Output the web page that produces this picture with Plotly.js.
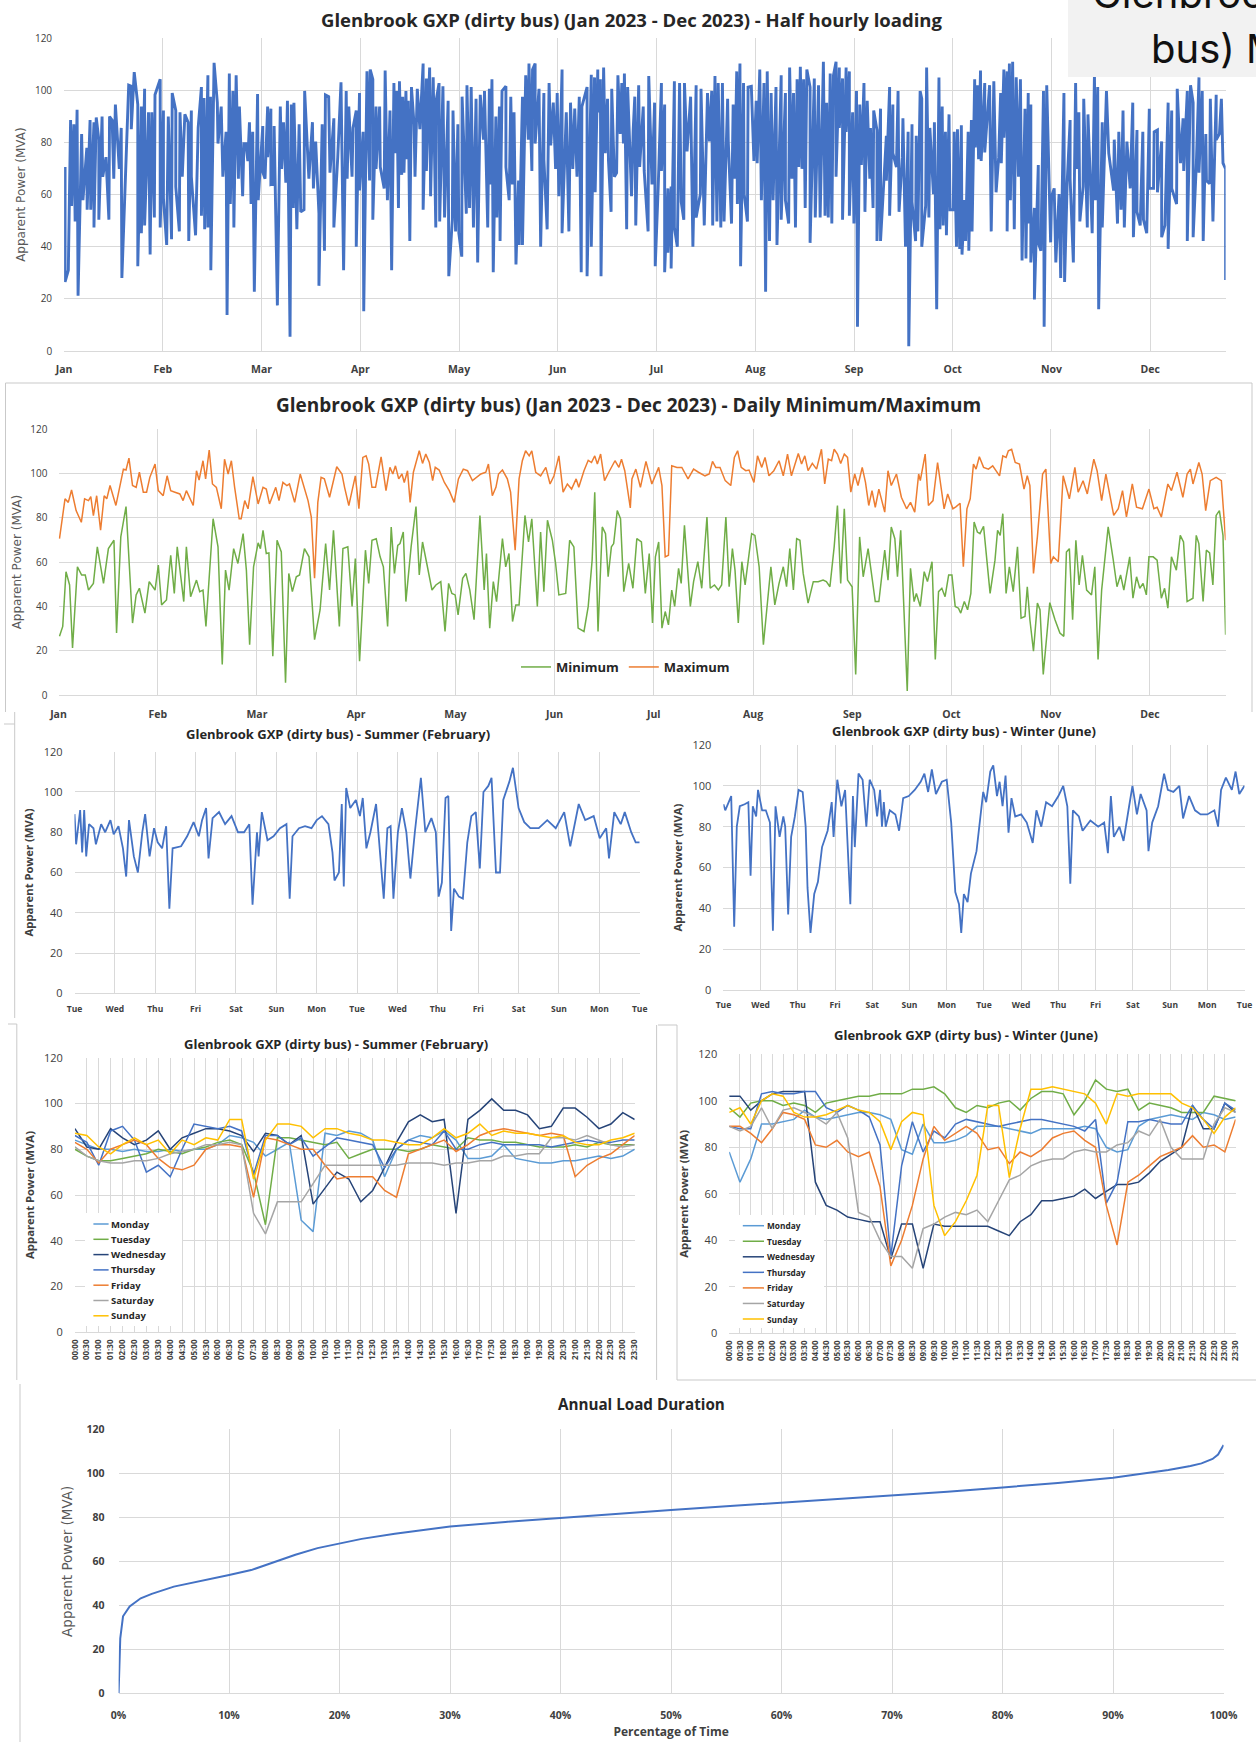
<!DOCTYPE html>
<html><head><meta charset="utf-8">
<script src="https://cdn.plot.ly/plotly-3.0.1.min.js"></script>
<style>html,body{margin:0;padding:0;background:#fff}#chart{width:1256px;height:1742px}</style>
</head><body><div id="chart"></div>
<script>
// ---------------- DATA ----------------
const MONTHS = ['Jan','Feb','Mar','Apr','May','Jun','Jul','Aug','Sep','Oct','Nov','Dec'];
const MONTH_POS = [0,30.42,60.83,91.25,121.67,152.08,182.5,212.92,243.33,273.75,304.17,334.58];

// Daily maximum (day of year index, MVA)
const DAILY_MAX_DAY = [0.3,2,3,4,5.4,7,8,9.2,9.9,10.7,11.7,12.9,14,14.8,15.8,17.6,19.9,20.7,21.6,22.7,23.8,24.8,26,27,28,29.6,30.6,32.1,33.3,34.4,35.7,37.2,38.2,39.2,41.3,42.3,43.1,44.3,45.1,46.2,47.2,48.4,49.9,50.9,52,53,54,55.4,56,57.1,58.1,59.6,61.2,62.7,63.7,64.7,66.6,67.6,68.8,70,70.8,72.4,74.1,76.5,77.5,78.5,79.5,80.5,81.5,83.1,85.3,86.9,
87.7,89,90,91,92.1,93.3,94.3,95.1,96.1,97.2,98.9,100.4,101.6,102.5,103.3,104.3,105.3,106,107,107.8,108.8,110.6,111.6,112.6,113.7,114.7,115.5,116.7,118.3,119.8,121.3,122.6,124.1,125.4,126.9,128.2,129.5,131,131.8,133,134.1,134.9,136.1,137.6,138.6,140,141.2,142.2,143.2,144.3,145.1,146.3,147.8,149.4,150.7,151.9,153.4,154.7,156,157.3,158.7,159.5,161.1,162.4,163.4,164.4,165.2,166.2,167.4,168.7,170.6,171.8,172.6,173.6,175.3,
175.8,177,178.4,180.1,181.9,184,185,186,187,188,189.6,191.1,193,194.7,196.2,198.2,199.5,200.5,201.5,202.8,204.4,206.1,207.2,208.2,209.3,210.7,211.7,213.2,214.3,215.6,216.6,217.8,219.3,220.9,222.2,223.5,224.7,225.8,226.8,227.8,228.8,229.8,231.1,232.4,233.9,234.9,236,237,237.8,238.8,239.8,240.9,241.9,242.9,244.1,245.1,246.4,247.4,248.4,249.4,250.4,251.5,253.3,254.3,255.3,256.9,258.4,260,261.2,262.5,263.7,
264.2,265.7,266.7,268.1,269.5,270.5,271.5,272.6,274.2,275.2,276.4,277.4,278.5,279.5,280.5,281.3,282.3,283.6,285.1,286.4,288.5,289.5,290.5,291.2,292.2,293.3,294.6,296,297,297.8,298.9,300.1,301.7,302.7,304.2,305,306.5,308,309.9,311.6,312.6,314.1,315.4,317.4,318.4,319.8,321.1,323.5,324.9,326.2,327.4,329.2,330.5,332.3,334.3,335.8,336.8,338.1,340.1,341.2,342.9,344.7,346,347,347.8,349.6,350.6,351.7,353.1,354.9,356.5,357.8];
const DAILY_MAX_MVA = [70.6,88.6,87,92.6,83.3,78,88.6,87.8,89.6,81,90,74.4,90,88.6,94.6,85.6,102,101.6,107,94.6,93.8,100.6,91.6,91.6,98.3,104.3,92.3,90,99,92.3,91.6,90.8,87.8,92.3,85.6,101.3,97.1,105.8,97.6,110.6,95.3,93.8,84.1,106.5,99.8,105.8,93.8,79.6,79.6,87.8,84.1,98.6,86.3,93.8,93,86.3,93.8,87.8,96,94.6,95.3,87,99.8,87.8,80.4,52.7,87,98.3,97.6,89.3,103.1,99.8,
93.8,85.6,92.3,99,84.1,107.3,108,104.3,93.8,93.8,107.6,92.3,102.8,99.8,103.5,97.6,99.8,96,101.3,87,100.6,110.3,104.6,108.8,105,96.8,102.8,101.6,96,92.3,87,97.6,102,101.3,96.8,98.3,99.8,100.6,104.3,90,93.8,99.8,101.6,97.6,91.6,65.4,97.6,105.8,110.3,108,110.3,100.6,99,102.8,95.3,99,108,91.6,95.3,93,97.6,93.8,101.3,106,105,108,104.3,108.8,96.8,100.6,105.8,102.8,106.5,101.3,84.5,
97.6,102,93.8,105.5,95.3,102.8,94.6,62.4,63.1,103.5,102.8,102.8,97.6,102,100.6,99,99.8,105.5,102.8,102.8,96.8,94.6,107.3,110.3,102.8,101.3,101.6,96,108,102.8,107.3,99,101.3,105.8,99,108.8,99,104.3,109.1,104.3,108,101.3,104.6,102,111,95.3,106.5,105.8,111,108.8,104.6,108.8,107.3,91.6,99.8,94.6,102.8,96,85.6,92.3,84.8,93,82.6,101.3,94.6,99.8,89.3,84.1,87,82.6,99.8,
96.8,108.8,85.6,87.8,105,93.8,84.1,90.8,84.1,85.1,86.6,57.9,84.1,88.6,104.3,102,107.6,102.8,102,103.5,99,108,107.3,110.3,111,105,104.3,93,99,94.6,54.9,71.4,99.8,102,59.4,62.4,60.2,99,88.6,102.8,91.6,96.8,90.8,106.5,101.3,87.8,99.8,81.1,84.1,92.3,80.4,95.3,84.8,84.1,93,84.1,84.8,80.4,95.3,92.3,100.6,89.3,99.8,102,95.3,105,99.8,83.3,96.8,98.3,96.8,69.9];

// Daily minimum (day of year index, MVA)
const DAILY_MIN_DAY = [0.3,1.3,2.3,3.4,4.3,5.8,7.1,8.2,9.2,10.7,11.9,13.8,15.3,17,17.8,19.1,20.7,22.7,23.8,24.8,26.5,27.8,29.6,30.6,31.6,33.1,34.4,35.5,36.4,38.4,39.2,40.5,42.3,43.3,44.3,45.2,47.4,48.9,50.2,51.2,52.3,53.7,55,56.6,57.6,58.6,59.8,61.2,61.9,62.7,63.7,64.5,65.7,67,68.3,69.6,70.6,71.7,72.9,73.9,75.4,76.8,78.5,80.2,81.9,83.1,84.3,86.1,87.2,
88.7,90,91,92.3,94.1,95.1,96.1,97.4,98.6,99.6,100.9,102,103,104,104.7,105.7,106.5,108.1,109.6,110.6,111.6,112.9,114.5,115.7,117.2,118.5,119.6,120.6,121.6,122.5,123.9,124.9,126.1,127.4,129.2,130.5,131.2,132.2,133.3,134.3,136.1,137.1,138.1,139.2,140.2,141.2,143,144.1,145.1,146.8,147.8,148.8,149.9,151.4,152.4,153.4,155.5,156.7,158,159.3,161.1,162.4,163.6,164.4,165.4,166.7,167.7,168.5,169.5,170.2,171.3,172.3,173.3,174.8,176.1,
177.3,178.7,179.9,181.1,182.1,183,184,185,186,187,188,188.9,190.1,190.9,191.9,193.7,194.7,196,197.2,198.8,199.8,201.1,202.3,203.3,204.6,205.6,206.6,207.4,208.4,209.5,210.5,212.5,213.5,214.8,216.1,217.3,218.4,219.6,220.9,222.2,223.2,224.2,225.3,226.3,227.3,228.3,229.8,231.4,232.9,234.4,235.4,236.5,237.8,238.8,239.8,240.9,241.9,243.3,244.4,245.6,246.7,248.2,249.2,250.4,251.5,253.3,254.3,255.3,256.4,257.2,258.2,259.2,260.2,261.2,262.3,263,
264.2,265.4,266.4,267.8,268.8,269.8,270.8,271.8,272.9,273.9,274.9,275.9,276.6,277.7,278.7,279.7,280.7,281.7,282.5,283.6,285.6,287.1,287.9,288.7,289.5,290.5,291.5,292.7,294,295.1,296.3,297,297.8,298.9,300.1,300.9,301.9,303.9,305.5,307,308.2,309,309.9,310.9,311.9,312.9,313.9,315.2,316.7,317.7,318.7,319.8,321.8,323.3,324.5,325.6,326.6,328.4,329.4,330.5,331.5,332.5,333.5,334.3,335.6,336.8,338.1,339.1,340.1,341.2,342.7,343.9,344.9,346,347.8,348.8,349.6,350.9,351.9,352.9,353.9,354.9,355.9,357,357.8];
const DAILY_MIN_MVA = [26.5,31,55.7,49.7,21.2,57.9,54.2,54.2,47.4,50.4,66.9,50.4,66.1,69.9,28,71.4,85.1,32.5,45.2,48.2,37,51.2,47.4,58.7,40.7,42.9,63.1,45.9,66.9,42.2,66.9,44.4,51.9,46.7,47.4,31,79.6,66.9,13.8,56.4,47.4,66.1,59.4,72.9,56.4,22.7,57.9,68.7,66.1,74.4,63.9,64.2,17.5,69.9,64.6,5.5,54.9,46.7,53.4,54.2,66.1,62.4,25,38.5,68.4,47.4,74.4,31,66.1,
66.9,40,61.6,15.3,65.4,50.4,69.9,70.6,62.4,57.9,31,75.9,54.9,67.6,68.4,73.6,42.2,66.9,85.1,54.2,69.1,59.4,47.4,49.7,51.2,28.7,50.4,45.9,45.2,36.2,52.7,54.9,47.4,34,81.1,47.4,63.9,30.2,51.2,42.2,70.6,57.9,63.9,33.2,40.7,40.7,81.1,69.1,79.6,40,73.6,46.7,78.9,69.9,59.4,45.2,45.9,69.9,66.9,30.2,28.7,40,60.9,91.6,28.7,75.9,72.9,53.4,66.9,68.4,83.3,79.6,46.7,59.4,48.2,
70.6,69.1,45.9,63.9,32.5,62.4,69.1,30.2,37.7,31.7,47.4,40,57.2,50.4,76.6,40,51.2,60.2,48.2,80.4,48.2,49.7,47.4,49.7,80.4,48.9,66.1,56.4,32.5,60.2,49.7,72.9,72.1,57.9,22.7,42.2,57.9,40.7,50.4,57.9,48.9,66.1,47.4,70.6,69.9,54.9,41.5,51.2,51.2,51.9,51.2,48.9,66.9,85.6,50.4,84.1,51.9,48.9,9.3,71.4,53.4,66.1,54.9,42.2,42.2,65.4,51.9,75.9,70.6,53.4,74.4,40,1.8,57.2,42.2,45.9,
40,55.7,51.2,60.2,16,46.7,48.2,44.4,54.2,54.2,40,39.2,37,42.2,38.5,45.9,78.1,73.6,72.9,76.2,45.9,60.9,74.4,72.1,81.9,45.9,57.9,46.7,66.9,34.7,35.5,48.9,34,19.8,41.5,38.5,9.3,41.7,34,28,26.5,64.6,66.1,34,69.9,49.7,63.1,47.4,45.2,57.9,16,47.4,75.9,61.6,48.9,54.2,47.4,62.4,43.7,53.4,48.2,50.4,45.2,62.4,62.4,60.9,43.7,48.2,39.2,62.4,56.4,72.1,69.1,42.2,43.7,72.1,68.4,42.2,65.4,64.2,49.7,81.1,83.3,72.1,27.2];

// Two-week traces (day offset from first Tuesday, MVA)
const WEEK_DAYS = ['Tue','Wed','Thu','Fri','Sat','Sun','Mon','Tue','Wed','Thu','Fri','Sat','Sun','Mon','Tue'];
const WEEK_TICKS = [0,1,2,3,4,5,6,7,8,9,10,11,12,13,14];
const SUMMER_WEEK_DAY = [0,0.04,0.14,0.19,0.24,0.29,0.36,0.47,0.53,0.66,0.76,0.89,0.97,1.09,1.2,1.28,1.35,1.47,1.57,1.68,1.75,1.86,1.97,2.06,2.17,2.27,2.35,2.43,2.64,2.79,2.95,3.08,3.16,3.26,3.32,3.42,3.58,3.73,3.89,4.05,4.2,4.33,4.41,4.52,4.56,4.64,4.78,4.93,5.09,5.25,5.33,5.4,5.56,5.71,5.87,6,6.13,6.29,6.39,6.44,6.55,6.62,6.67,6.73,6.83,6.97,7.07,7.14,7.23,7.33,7.47,7.59,7.66,7.75,7.83,7.9,8.01,8.11,8.22,8.32,8.43,8.58,8.69,8.84,8.95,9.02,9.1,9.19,9.26,9.33,9.4,9.52,9.62,9.73,9.83,9.94,10.04,10.13,10.25,10.33,10.38,10.44,10.54,10.62,10.77,10.86,11,11.14,11.29,11.5,11.71,11.92,12.13,12.28,12.49,12.65,12.86,13.01,13.17,13.24,13.37,13.53,13.63,13.79,13.9,14];
const SUMMER_WEEK_MVA = [89,74,91,70,91,68,84,82,74,84,80,86,79,83,72,58,86,68,60,80,89,68,82,75,72,83,42,72,73,78,85,78,86,92,67,87,90,84,88,80,80,84,44,80,68,90,76,78,82,84,47,78,82,83,82,86,88,84,70,56,60,94,53,102,92,96,88,97,72,80,94,65,47,82,83,47,80,92,80,57,80,107,80,87,80,48,55,97,98,31,52,48,47,75,88,90,62,100,103,107,84,60,60,96,105,112,92,85,82,82,86,82,90,73,94,86,88,77,82,67,90,84,90,80,75,75];
const WINTER_WEEK_DAY = [0,0.05,0.21,0.29,0.36,0.44,0.57,0.67,0.73,0.79,0.88,0.93,1.04,1.14,1.25,1.33,1.4,1.51,1.61,1.66,1.74,1.82,1.92,2.02,2.13,2.21,2.26,2.34,2.44,2.54,2.65,2.8,2.91,2.96,3.06,3.17,3.27,3.32,3.41,3.48,3.53,3.63,3.74,3.84,3.93,4.05,4.13,4.21,4.26,4.31,4.36,4.47,4.62,4.72,4.83,4.98,5.14,5.3,5.4,5.5,5.6,5.71,5.87,6,6.12,6.23,6.33,6.39,6.46,6.56,6.65,6.8,6.91,6.98,7.06,7.17,7.25,7.35,7.42,7.5,7.58,7.66,7.74,7.84,8,8.15,8.31,8.41,8.54,8.67,8.83,9,9.13,9.24,9.32,9.39,9.55,9.65,9.86,10.07,10.23,10.33,10.41,10.49,10.64,10.75,10.9,10.99,11.11,11.21,11.37,11.42,11.52,11.68,11.84,11.94,12.09,12.25,12.35,12.51,12.67,12.82,13,13.19,13.29,13.37,13.5,13.66,13.76,13.86,14];
const WINTER_WEEK_MVA = [91,88,95,31,80,90,91,92,56,90,85,98,88,88,82,29,90,75,85,80,37,75,85,98,97,80,50,28,47,53,70,78,92,75,103,90,98,80,42,95,70,106,103,80,103,98,85,98,80,92,80,88,86,78,94,95,98,102,106,97,108,96,102,103,82,48,42,28,47,43,57,68,85,97,92,107,110,95,102,90,105,77,94,85,86,82,72,88,80,92,90,95,100,90,52,88,85,78,83,80,82,67,95,75,80,73,90,100,86,96,88,68,82,90,106,98,97,100,84,95,88,86,86,88,80,98,104,98,107,96,100];

// Average day profiles, half-hourly
const TIMES = ['00:00','00:30','01:00','01:30','02:00','02:30','03:00','03:30','04:00','04:30','05:00','05:30','06:00','06:30','07:00','07:30','08:00','08:30','09:00','09:30','10:00','10:30','11:00','11:30','12:00','12:30','13:00','13:30','14:00','14:30','15:00','15:30','16:00','16:30','17:00','17:30','18:00','18:30','19:00','19:30','20:00','20:30','21:00','21:30','22:00','22:30','23:00','23:30'];
const TIME_IDX = [0,1,2,3,4,5,6,7,8,9,10,11,12,13,14,15,16,17,18,19,20,21,22,23,24,25,26,27,28,29,30,31,32,33,34,35,36,37,38,39,40,41,42,43,44,45,46,47];
const DAY_NAMES = ['Monday','Tuesday','Wednesday','Thursday','Friday','Saturday','Sunday'];
const DAY_COLORS = ['#5B9BD5','#70AD47','#264478','#4472C4','#ED7D31','#A5A5A5','#FFC000'];

const SUMMER_MON = [84,82,80,80,79,80,79,79,80,79,80,80,82,86,85,83,77,80,83,49,44,87,86,88,87,84,68,80,84,86,85,88,84,76,76,77,82,76,75,74,74,75,75,76,77,76,77,80];
const SUMMER_TUE = [80,77,75,75,76,77,78,80,79,78,80,81,83,84,82,70,47,85,85,84,83,82,83,76,78,80,80,80,79,80,82,81,80,85,84,84,83,83,82,81,81,81,82,81,83,82,82,82];
const SUMMER_WED = [89,81,80,89,85,82,84,88,80,85,87,89,89,88,86,79,87,86,82,86,56,63,70,67,57,62,72,83,92,95,92,93,52,93,97,102,97,97,95,89,90,98,98,94,89,91,96,93];
const SUMMER_THU = [86,83,73,88,90,84,70,73,68,80,91,90,89,90,88,69,86,86,82,85,77,81,85,84,83,82,72,80,84,83,82,88,80,80,82,83,82,82,82,82,81,82,83,84,83,83,84,84];
const SUMMER_FRI = [83,80,74,80,82,84,82,76,72,71,73,80,82,82,81,59,85,84,82,80,80,73,67,68,68,68,62,59,78,80,82,84,79,82,86,88,89,88,87,86,87,86,68,73,76,78,82,86];
const SUMMER_SAT = [81,77,75,74,74,75,75,76,78,79,80,82,82,83,82,52,43,57,57,57,65,73,73,73,73,73,73,73,74,74,74,73,74,74,75,75,77,77,78,78,85,85,84,86,84,82,81,82];
const SUMMER_SUN = [87,86,81,78,82,85,82,84,78,84,82,85,84,93,93,67,84,91,91,90,85,89,89,87,86,84,84,83,82,82,85,89,85,87,91,86,88,87,87,86,85,86,83,82,82,84,85,87];

const WINTER_MON = [78,65,75,90,90,91,92,96,93,92,93,94,95,95,94,92,79,77,90,82,82,83,85,89,89,89,88,87,86,88,88,88,88,89,88,80,78,79,89,92,93,94,93,92,95,94,92,93];
const WINTER_TUE = [97,93,99,100,100,98,99,98,95,99,100,101,102,102,103,103,103,105,105,106,103,97,95,98,97,99,100,96,101,104,104,103,94,100,109,105,104,105,96,99,98,97,95,95,95,102,101,100];
const WINTER_WED = [102,102,96,100,103,104,104,104,65,55,53,50,49,48,48,32,47,47,28,47,46,46,46,46,46,44,42,48,51,57,57,58,59,62,58,61,64,64,65,69,74,77,80,98,88,88,99,95];
const WINTER_THU = [89,88,88,103,104,103,103,104,104,97,95,98,96,93,81,33,72,91,78,87,84,90,92,91,90,89,90,91,92,92,91,90,89,87,92,56,65,91,91,92,91,90,90,98,92,88,99,96];
const WINTER_FRI = [89,89,86,82,88,95,94,92,81,80,83,78,76,78,63,29,40,55,75,89,83,86,89,86,79,80,73,78,76,79,84,86,87,83,80,55,38,65,68,72,76,78,80,85,80,81,78,92];
const WINTER_SAT = [89,87,89,97,88,96,97,95,93,90,95,84,52,50,40,33,33,28,45,47,50,52,51,53,48,57,66,68,72,74,75,75,78,79,78,78,81,82,87,85,92,80,75,75,75,90,97,95];
const WINTER_SUN = [95,97,90,100,103,102,95,93,93,94,96,98,96,95,91,79,91,95,94,55,42,48,57,68,98,98,67,88,105,105,106,105,104,103,99,90,103,102,103,103,103,103,99,97,92,86,93,97];

// Annual load duration (percentage of time, MVA)
const LD_PCT = [0,0.05,0.15,0.4,1,2,3,5,7,10,12,14,16,18,20,22,25,30,35,40,45,50,55,60,65,70,75,80,85,90,95,97,98,99,99.5,100];
const LD_MVA = [0,14,25,35,39.5,43.2,45.2,48.5,50.5,53.8,56,59.5,63,66,68.2,70.2,72.5,75.8,77.9,79.8,81.6,83.3,85,86.7,88.2,89.8,91.6,93.6,95.6,98,101.5,103.3,104.5,106.5,108.5,112.9];

// ---------------- LAYOUT HELPERS ----------------
const W = 1256, H = 1742;
const px = x => x / W;
const py = y => 1 - y / H;
const GRID = '#d9d9d9';
const TXT = '#404040';
const SANS = "'Open Sans', 'Liberation Sans', sans-serif";
const WIDE = "'DejaVu Sans', Verdana, sans-serif";
const BLUE = '#4472C4';

function xAxis(l, r, anchor, extra) {
  return Object.assign({domain: [px(l), px(r)], anchor: anchor, showgrid: true, gridcolor: GRID, gridwidth: 1,
    zeroline: false, showline: true, linecolor: GRID, linewidth: 1, ticks: '', fixedrange: true}, extra);
}
function yAxis(t, b, anchor, extra) {
  return Object.assign({domain: [py(b), py(t)], anchor: anchor, range: [0, 120], tick0: 0, dtick: 20,
    showgrid: true, gridcolor: GRID, gridwidth: 1, zeroline: false, showline: false, ticks: '', fixedrange: true}, extra);
}

// Half hourly trace: interleave daily maxima and minima in time order
const hhPts = DAILY_MAX_DAY.map((d, i) => [d, DAILY_MAX_MVA[i]])
  .concat(DAILY_MIN_DAY.map((d, i) => [d, DAILY_MIN_MVA[i]]))
  .sort((a, b) => a[0] - b[0]);

const traces = [];
traces.push({type: 'scatter', mode: 'lines', x: hhPts.map(p => p[0]), y: hhPts.map(p => p[1]),
  xaxis: 'x', yaxis: 'y', line: {color: BLUE, width: 2.9}, showlegend: false, name: 'Half hourly'});
traces.push({type: 'scatter', mode: 'lines', x: DAILY_MIN_DAY, y: DAILY_MIN_MVA, xaxis: 'x2', yaxis: 'y2',
  line: {color: '#70AD47', width: 1.5}, name: 'Minimum'});
traces.push({type: 'scatter', mode: 'lines', x: DAILY_MAX_DAY, y: DAILY_MAX_MVA, xaxis: 'x2', yaxis: 'y2',
  line: {color: '#ED7D31', width: 1.5}, name: 'Maximum'});
traces.push({type: 'scatter', mode: 'lines', x: SUMMER_WEEK_DAY, y: SUMMER_WEEK_MVA, xaxis: 'x3', yaxis: 'y3',
  line: {color: BLUE, width: 1.8}, showlegend: false, name: 'Summer'});
traces.push({type: 'scatter', mode: 'lines', x: WINTER_WEEK_DAY, y: WINTER_WEEK_MVA, xaxis: 'x4', yaxis: 'y4',
  line: {color: BLUE, width: 1.8}, showlegend: false, name: 'Winter'});
const SUMMER_PROFILES = [SUMMER_MON, SUMMER_TUE, SUMMER_WED, SUMMER_THU, SUMMER_FRI, SUMMER_SAT, SUMMER_SUN];
const WINTER_PROFILES = [WINTER_MON, WINTER_TUE, WINTER_WED, WINTER_THU, WINTER_FRI, WINTER_SAT, WINTER_SUN];
SUMMER_PROFILES.forEach((v, i) => traces.push({type: 'scatter', mode: 'lines', x: TIME_IDX, y: v, xaxis: 'x5', yaxis: 'y5',
  line: {color: DAY_COLORS[i], width: 1.5}, showlegend: false, name: DAY_NAMES[i]}));
WINTER_PROFILES.forEach((v, i) => traces.push({type: 'scatter', mode: 'lines', x: TIME_IDX, y: v, xaxis: 'x6', yaxis: 'y6',
  line: {color: DAY_COLORS[i], width: 1.5}, showlegend: false, name: DAY_NAMES[i]}));
traces.push({type: 'scatter', mode: 'lines', x: LD_PCT, y: LD_MVA, xaxis: 'x7', yaxis: 'y7',
  line: {color: BLUE, width: 2}, showlegend: false, name: 'Load duration'});

const tickF = (s, bold) => ({family: SANS, size: s, color: TXT, weight: bold ? 'bold' : 'normal'});
const yTitleWide = (s, sd) => ({text: 'Apparent Power (MVA)', font: {family: WIDE, size: s, color: '#595959'}, standoff: sd});
const yTitleBold = (s, sd) => ({text: 'Apparent Power (MVA)', font: {family: SANS, size: s, color: TXT, weight: 'bold'}, standoff: sd});

const layout = {
  width: W, height: H, margin: {l: 0, r: 0, t: 0, b: 0}, paper_bgcolor: '#ffffff', plot_bgcolor: '#ffffff',
  font: {family: SANS, color: TXT},
  xaxis: xAxis(64.1, 1225.6, 'y', {range: [0, 357.8], tickmode: 'array', tickvals: MONTH_POS, ticktext: MONTHS,
    tickfont: tickF(10.5, true), ticklabelstandoff: 8}),
  yaxis: yAxis(38.3, 351, 'x', {tickfont: tickF(10, false), ticklabelstandoff: 11, title: yTitleWide(12, 6)}),
  xaxis2: xAxis(58.5, 1225.6, 'y2', {range: [0, 357.8], tickmode: 'array', tickvals: MONTH_POS, ticktext: MONTHS,
    tickfont: tickF(10.5, true), ticklabelstandoff: 9}),
  yaxis2: yAxis(429.3, 695, 'x2', {tickfont: tickF(10, false), ticklabelstandoff: 10, title: yTitleWide(12, 6)}),
  xaxis3: xAxis(74.5, 639.7, 'y3', {range: [0, 14], tickmode: 'array', tickvals: WEEK_TICKS, ticktext: WEEK_DAYS,
    tickfont: tickF(8.5, true), ticklabelstandoff: 7}),
  yaxis3: yAxis(751.7, 993.3, 'x3', {tickfont: tickF(11, false), ticklabelstandoff: 11, title: yTitleBold(11.3, 7)}),
  xaxis4: xAxis(723.4, 1244.5, 'y4', {range: [0, 14], tickmode: 'array', tickvals: WEEK_TICKS, ticktext: WEEK_DAYS,
    tickfont: tickF(8.5, true), ticklabelstandoff: 7}),
  yaxis4: yAxis(745, 990, 'x4', {tickfont: tickF(11, false), ticklabelstandoff: 11, title: yTitleBold(11.3, 7)}),
  xaxis5: xAxis(74.9, 634.7, 'y5', {range: [0, 47], tickmode: 'array', tickvals: TIME_IDX, ticktext: TIMES,
    tickangle: -90, tickfont: tickF(8, true), ticklabelstandoff: 3}),
  yaxis5: yAxis(1057.7, 1332.3, 'x5', {tickfont: tickF(11, false), ticklabelstandoff: 11, title: yTitleBold(11.3, 7)}),
  xaxis6: xAxis(729.2, 1235.6, 'y6', {range: [0, 47], tickmode: 'array', tickvals: TIME_IDX, ticktext: TIMES,
    tickangle: -90, tickfont: tickF(8, true), ticklabelstandoff: 3}),
  yaxis6: yAxis(1054.3, 1333.3, 'x6', {tickfont: tickF(11, false), ticklabelstandoff: 11, title: yTitleBold(11.3, 7)}),
  xaxis7: xAxis(118.6, 1223.6, 'y7', {range: [0, 100], tick0: 0, dtick: 10, ticksuffix: '%',
    tickfont: tickF(10.5, true), ticklabelstandoff: 12,
    title: {text: 'Percentage of Time', font: {family: SANS, size: 12, color: TXT, weight: 'bold'}, standoff: 6}}),
  yaxis7: yAxis(1429.3, 1693.3, 'x7', {tickfont: tickF(10.5, true), ticklabelstandoff: 13, title: yTitleWide(13.5, 10)}),
  legend: {orientation: 'h', x: px(516), y: py(667), xanchor: 'left', yanchor: 'middle', bgcolor: 'rgba(0,0,0,0)',
    font: {family: SANS, size: 13, color: '#262626', weight: 'bold'}, itemwidth: 30},
  shapes: [], annotations: []
};

// Chart titles
const TITLES = [
  ['Glenbrook GXP (dirty bus) (Jan 2023 - Dec 2023) - Half hourly loading', 631, 19.5, 18.5],
  ['Glenbrook GXP (dirty bus) (Jan 2023 - Dec 2023) - Daily Minimum/Maximum', 628, 405, 19],
  ['Glenbrook GXP (dirty bus) - Summer (February)', 338, 734, 13],
  ['Glenbrook GXP (dirty bus) - Winter (June)', 964, 730.5, 13],
  ['Glenbrook GXP (dirty bus) - Summer (February)', 336, 1044, 13],
  ['Glenbrook GXP (dirty bus) - Winter (June)', 966, 1035, 13],
  ['Annual Load Duration', 641, 1404, 15.2]
];
TITLES.forEach(t => layout.annotations.push({text: t[0], xref: 'paper', yref: 'paper', x: px(t[1]), y: py(t[2]),
  xanchor: 'center', yanchor: 'middle', showarrow: false,
  font: {family: SANS, size: t[3], color: '#262626', weight: 'bold'}}));

// Panel frames (thin grey borders)
const FRAME = {color: '#c9c9c9', width: 1};
const FRAMES = [
  [5.5, 383, 5.5, 712], [5.5, 383, 1252, 383], [1252, 383, 1252, 712],
  [14.7, 712, 14.7, 1018], [4, 724, 14.7, 724],
  [16.8, 1024, 16.8, 1380], [656.6, 1025, 656.6, 1380], [8, 1024, 16.8, 1024],
  [658, 1025, 677, 1025], [677, 1025, 677, 1380], [677, 1380, 1256, 1380],
  [20, 1384, 20, 1742]
];
FRAMES.forEach(f => layout.shapes.push({type: 'line', xref: 'paper', yref: 'paper',
  x0: px(f[0]), y0: py(f[1]), x1: px(f[2]), y1: py(f[3]), line: FRAME, layer: 'above'}));

// Manual legends for the day profile charts
function dayLegend(box, lineX0, lineX1, textX, y0, dy, fs) {
  layout.shapes.push({type: 'rect', xref: 'paper', yref: 'paper', x0: px(box[0]), x1: px(box[1]),
    y0: py(box[3]), y1: py(box[2]), fillcolor: '#ffffff', line: {width: 0}, layer: 'above'});
  DAY_NAMES.forEach((n, i) => {
    const yy = y0 + i * dy;
    layout.shapes.push({type: 'line', xref: 'paper', yref: 'paper', x0: px(lineX0), x1: px(lineX1),
      y0: py(yy), y1: py(yy), line: {color: DAY_COLORS[i], width: 1.5}, layer: 'above'});
    layout.annotations.push({text: n, xref: 'paper', yref: 'paper', x: px(textX), y: py(yy), xanchor: 'left',
      yanchor: 'middle', showarrow: false, font: {family: SANS, size: fs, color: '#262626', weight: 'bold'}});
  });
}
dayLegend([85, 182, 1213, 1326], 93.4, 108.6, 109, 1224, 15.3, 9.5);
dayLegend([735, 824, 1215, 1328], 742.8, 764, 764.5, 1225.7, 15.55, 8.3);

// Cropped slide caption overlay in the top right corner
layout.shapes.push({type: 'rect', xref: 'paper', yref: 'paper', x0: px(1068), x1: 1, y0: py(77), y1: 1,
  fillcolor: '#f2f2f2', line: {width: 0}, layer: 'above'});
layout.annotations.push({text: 'Glenbrook GXP (dirty', xref: 'paper', yref: 'paper', x: px(1090), y: py(-6),
  xanchor: 'left', yanchor: 'middle', showarrow: false, font: {family: "'Inter', 'Open Sans', sans-serif", size: 40, color: '#111111'}});
layout.annotations.push({text: 'bus) Min', xref: 'paper', yref: 'paper', x: px(1149), y: py(49),
  xanchor: 'left', yanchor: 'middle', showarrow: false, font: {family: "'Inter', 'Open Sans', sans-serif", size: 40, color: '#111111'}});

Plotly.newPlot('chart', traces, layout, {staticPlot: true, displayModeBar: false});
</script>
</body></html>
